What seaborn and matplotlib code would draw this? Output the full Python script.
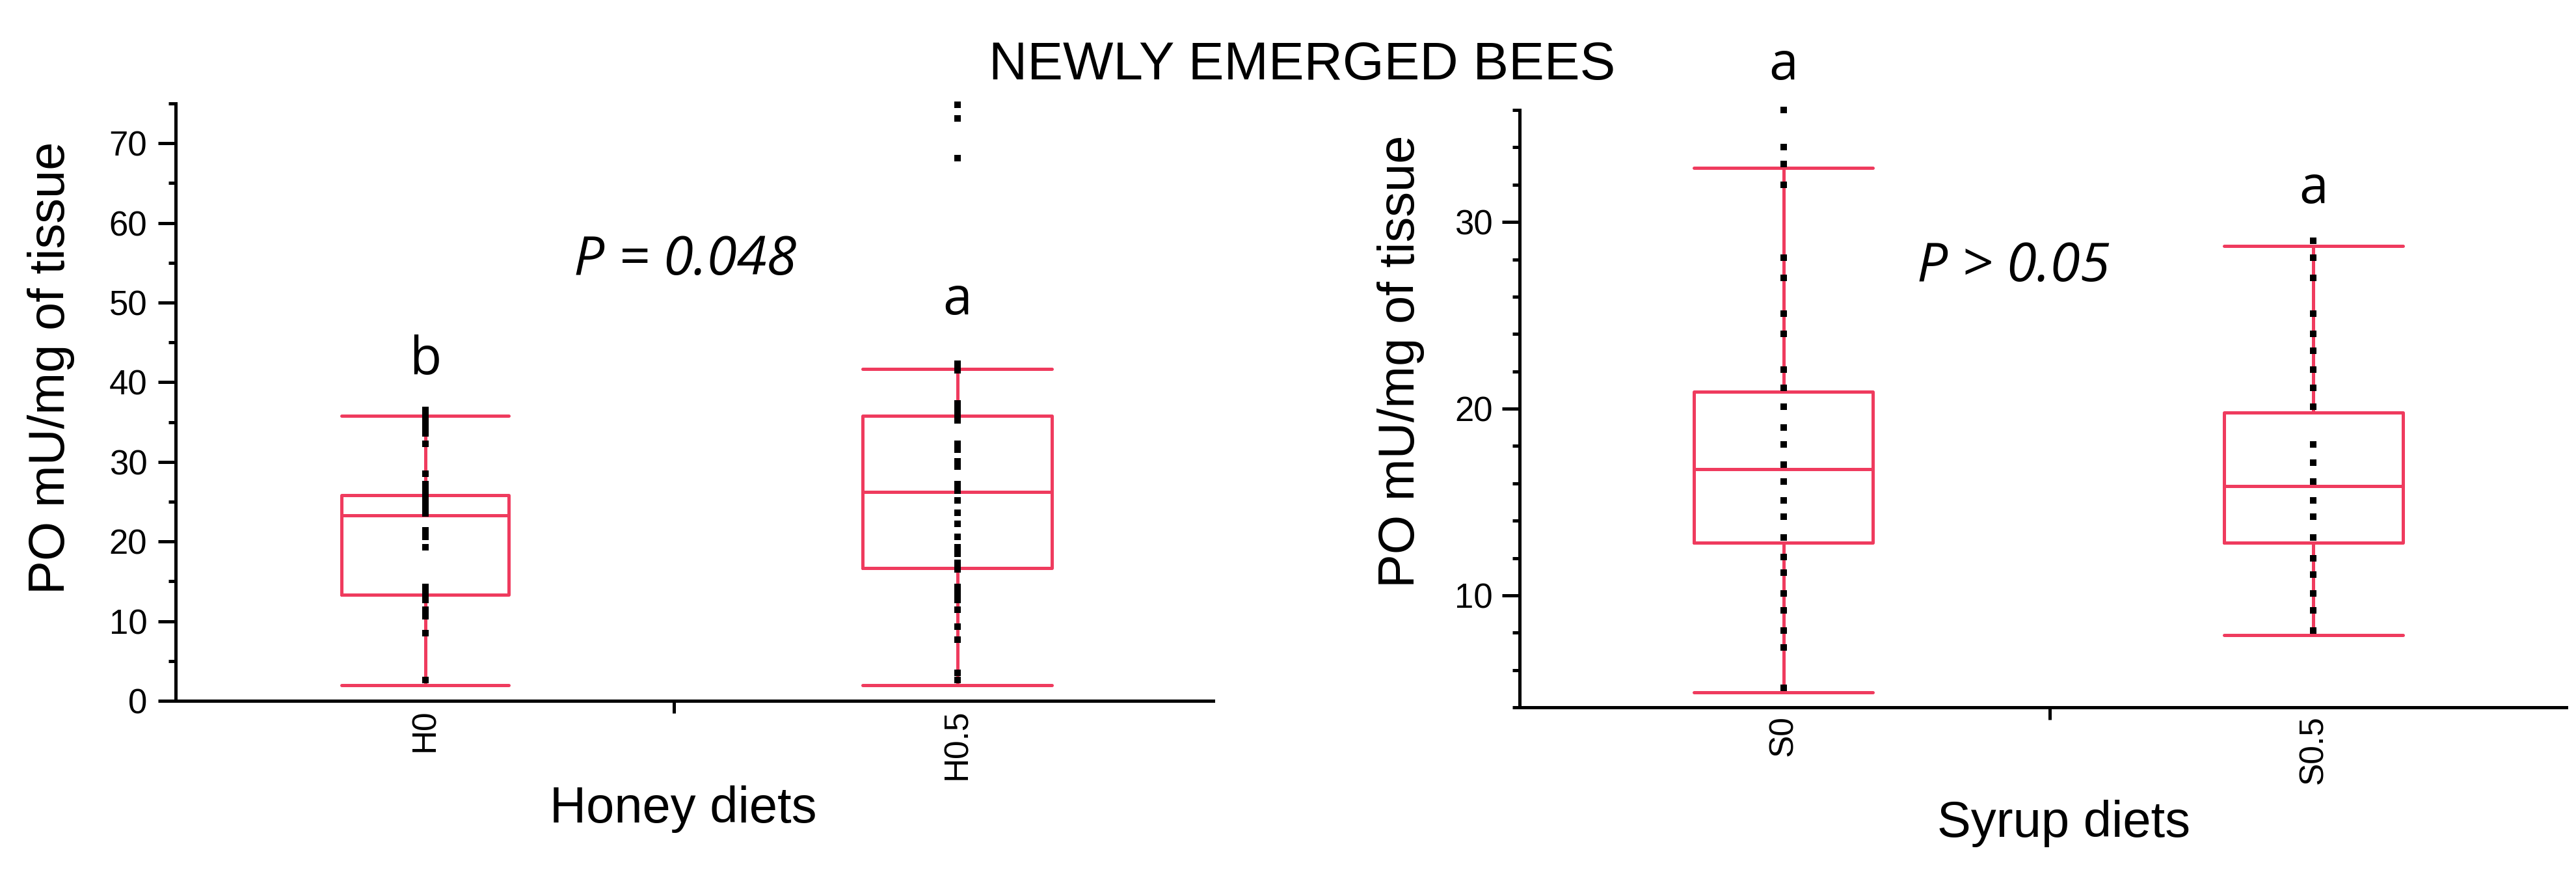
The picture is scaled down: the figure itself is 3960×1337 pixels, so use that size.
import matplotlib
matplotlib.use("Agg")
import matplotlib.pyplot as plt
from matplotlib.ticker import FixedLocator, MultipleLocator
import seaborn as sns
import pandas as pd

# ---------------- data ----------------
title = "NEWLY EMERGED BEES"

honey_groups = ["H0", "H0.5"]
h0_points = [36.5, 35.7, 34.9, 34.1, 33.6, 32.25, 28.5, 27.2, 26.4, 25.6, 24.8,
             24.0, 23.5, 21.4, 20.6, 19.3, 14.3, 13.5, 12.7, 11.4, 10.6, 8.5, 2.65]
h05_points = [74.8, 73.1, 68.1, 42.3, 41.5, 37.3, 36.5, 35.7, 35.2, 32.3, 31.5,
              30.1, 29.4, 27.2, 26.4, 25.2, 23.6, 22.2, 20.6, 19.3, 18.5, 17.3,
              16.5, 14.3, 13.5, 12.7, 11.4, 9.3, 7.7, 3.5, 2.6]
honey_q1 = [13.3, 16.7]
honey_median = [23.3, 26.2]
honey_q3 = [25.8, 35.8]
honey_whislo = [2.0, 2.0]
honey_whishi = [35.8, 41.7]
honey_letters = ["b", "a"]
honey_letter_y = [41.05, 48.5]
honey_p_text = "P = 0.048"

syrup_groups = ["S0", "S0.5"]
s0_points = [36.0, 34.0, 33.1, 32.0, 28.1, 27.0, 25.1, 24.0, 22.1, 21.1, 20.1,
             19.0, 18.1, 17.0, 16.1, 15.1, 14.2, 13.1, 12.05, 11.2, 10.1, 9.2,
             8.1, 7.2, 5.06]
s05_points = [29.0, 28.1, 27.0, 25.1, 24.0, 23.1, 22.1, 21.1, 20.1, 18.1, 17.1,
              16.1, 15.1, 14.2, 13.1, 12.0, 11.1, 10.1, 9.2, 8.1]
syrup_q1 = [12.82, 12.83]
syrup_median = [16.76, 15.86]
syrup_q3 = [20.9, 19.8]
syrup_whislo = [4.8, 7.86]
syrup_whishi = [32.9, 28.7]
syrup_letters = ["a", "a"]
syrup_letter_y = [37.64, 31.0]
syrup_p_text = "P > 0.05"

y_label = "PO mU/mg of tissue"
honey_xlabel = "Honey diets"
syrup_xlabel = "Syrup diets"

# ---------------- style ----------------
sns.set_theme(style="ticks")
plt.rcParams["font.family"] = ["Liberation Sans", "DejaVu Sans"]
plt.rcParams["text.color"] = "black"
plt.rcParams["axes.labelcolor"] = "black"
plt.rcParams["xtick.color"] = "black"
plt.rcParams["ytick.color"] = "black"
plt.rcParams["xtick.labelcolor"] = "black"
plt.rcParams["ytick.labelcolor"] = "black"

RED = "#EF3B5E"
LW = 3.6

fig = plt.figure(figsize=(39.6, 13.37), dpi=100)
ax_h = fig.add_axes([270 / 3960, 1 - 1077 / 1337, 1595 / 3960, 918 / 1337])
ax_s = fig.add_axes([2336 / 3960, 1 - 1087 / 1337, 1609 / 3960, 918 / 1337])


def draw_panel(ax, groups, pts_list, q1, med, q3, lo, hi, widths):
    df = pd.DataFrame({
        "group": [g for g, pts in zip(groups, pts_list) for _ in pts],
        "value": [v for pts in pts_list for v in pts],
    })
    sns.stripplot(data=df, x="group", y="value", order=groups, jitter=False,
                  marker="s", size=7.2, color="black", linewidth=0, ax=ax,
                  zorder=3, clip_on=False)
    stats = [dict(label=g, q1=a, med=m, q3=b, whislo=l, whishi=h, fliers=[])
             for g, a, m, b, l, h in zip(groups, q1, med, q3, lo, hi)]
    props = dict(color=RED, linewidth=LW)
    ax.bxp(stats, positions=list(range(len(groups))), widths=widths,
           capwidths=widths, showfliers=False, boxprops=props,
           whiskerprops=props, capprops=props, medianprops=props,
           manage_ticks=False, zorder=2)
    for s in ["top", "right"]:
        ax.spines[s].set_visible(False)
    for s in ["left", "bottom"]:
        ax.spines[s].set_linewidth(LW)
        ax.spines[s].set_color("black")
    ax.tick_params(axis="y", which="major", length=19.5, width=LW,
                   labelsize=38, direction="out", color="black",
                   labelcolor="black")
    ax.tick_params(axis="y", which="minor", length=8, width=LW,
                   direction="out", color="black")
    ax.tick_params(axis="x", which="major", length=0, labelsize=37, pad=9,
                   labelrotation=90, labelcolor="black")
    ax.tick_params(axis="x", which="minor", length=14, width=LW,
                   direction="out", color="black")


draw_panel(ax_h, honey_groups, [h0_points, h05_points], honey_q1, honey_median,
           honey_q3, honey_whislo, honey_whishi, [0.315, 0.356])
draw_panel(ax_s, syrup_groups, [s0_points, s05_points], syrup_q1, syrup_median,
           syrup_q3, syrup_whislo, syrup_whishi, [0.338, 0.338])

# left panel axes
ax_h.set_xlim(-0.469, 1.481)
ax_h.set_ylim(0, 75)
ax_h.yaxis.set_major_locator(MultipleLocator(10))
ax_h.yaxis.set_minor_locator(MultipleLocator(5))
ax_h.xaxis.set_minor_locator(FixedLocator([0.467]))
ax_h.tick_params(axis="y", which="major", pad=12)

# right panel axes
ax_s.set_xlim(-0.498, 1.477)
ax_s.set_ylim(4, 36)
ax_s.yaxis.set_major_locator(MultipleLocator(10))
ax_s.yaxis.set_minor_locator(MultipleLocator(2))
ax_s.xaxis.set_minor_locator(FixedLocator([0.503]))
ax_s.tick_params(axis="y", which="major", pad=10)

# labels
for ax, xl, ycoords, xcoords in [
    (ax_h, honey_xlabel, (-0.097, 0.557), (0.489, -0.142)),
    (ax_s, syrup_xlabel, (-0.0907, 0.579), (0.52, -0.155)),
]:
    ax.set_ylabel(y_label, fontsize=56, color="black")
    ax.yaxis.set_label_coords(*ycoords)
    ax.set_xlabel(xl, fontsize=56, color="black")
    ax.xaxis.set_label_coords(*xcoords)

# significance letters
for i, (let, yv) in enumerate(zip(honey_letters, honey_letter_y)):
    ax_h.text(i, yv, let, ha="center", va="baseline", fontsize=58,
              family=["Open Sans", "DejaVu Sans"], clip_on=False,
              color="black")
for i, (let, yv) in enumerate(zip(syrup_letters, syrup_letter_y)):
    ax_s.text(i, yv, let, ha="center", va="baseline", fontsize=58,
              family=["Open Sans", "DejaVu Sans"], clip_on=False,
              color="black")

# P values
ax_h.text(0.279, 53.5, honey_p_text, ha="left", va="baseline", fontsize=60,
          fontstyle="italic", family=["Open Sans", "DejaVu Sans"],
          color="black")
ax_s.text(0.252, 26.84, syrup_p_text, ha="left", va="baseline", fontsize=60,
          fontstyle="italic", family=["Open Sans", "DejaVu Sans"],
          color="black")

fig.text(0.5054, 1 - 121.7 / 1337, title, ha="center", va="baseline",
         fontsize=59, color="black")

fig.savefig("out.png", dpi=100, facecolor="white")
